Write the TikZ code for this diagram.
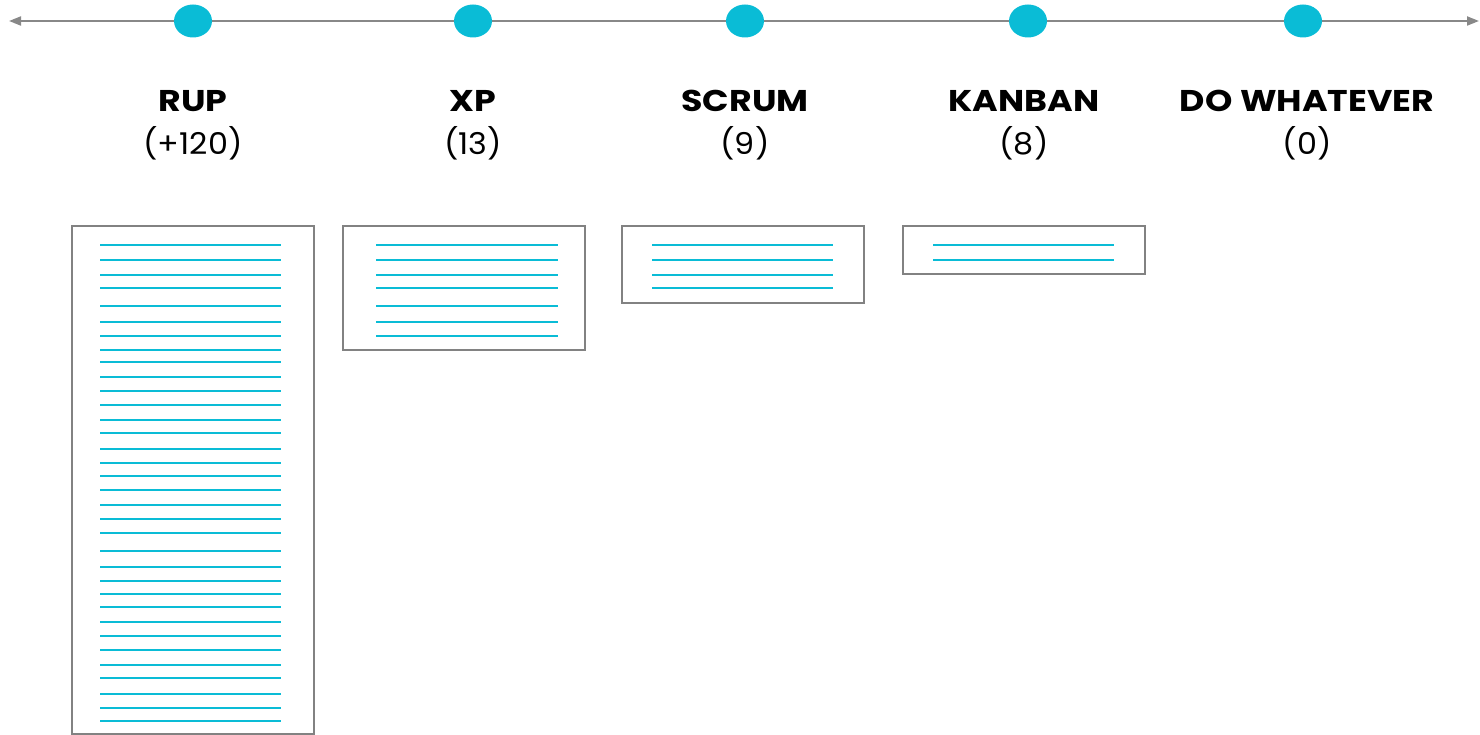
\documentclass[tikz,border=0pt]{standalone}
\usepackage{graphicx}
\usepackage{fontspec}
\setmainfont{Poppins}
\usetikzlibrary{arrows.meta,shapes.geometric}
\definecolor{dotcyan}{HTML}{0ABCD6}
\definecolor{axisgray}{HTML}{888888}
\definecolor{boxgray}{HTML}{828282}
\newcommand\widetitle[1]{\scalebox{1.16}[1]{#1}}
\newcommand\widecount[1]{\scalebox{1.06}[1]{#1}}
\tikzset{
  dot/.style={ellipse, fill=dotcyan, minimum width=38pt, minimum height=33pt, inner sep=0pt},
  title/.style={font=\fontsize{30}{30}\selectfont\bfseries, anchor=base, text=black},
  count/.style={font=\fontsize{30}{30}\selectfont, anchor=base, text=black},
  docbox/.style={draw=boxgray, line width=2pt},
  docline/.style={draw=dotcyan, line width=2pt},
  axis/.style={draw=axisgray, line width=2pt, {Triangle[length=12pt,width=9pt]}-{Triangle[length=12pt,width=9pt]}}
}
\begin{document}
\begin{tikzpicture}[x=1pt,y=1pt]
\useasboundingbox (0,0) rectangle (1480,-735);
\coordinate (axL) at (9,-21);
\coordinate (axR) at (1479,-21);
\draw[axis] (axL) -- (axR);
\node[dot] (d1) at (193,-21) {};
\node[dot] (d2) at (473,-21) {};
\node[dot] (d3) at (745,-21) {};
\node[dot] (d4) at (1028,-21) {};
\node[dot] (d5) at (1303,-21) {};
\node[title] (t1) at (193,-112) {\widetitle{RUP}};
\node[title] (t2) at (473,-112) {\widetitle{XP}};
\node[title] (t3) at (745,-112) {\widetitle{SCRUM}};
\node[title] (t4) at (1024,-112) {\widetitle{KANBAN}};
\node[title] (t5) at (1307,-112) {\widetitle{DO WHATEVER}};
\node[count] (c1) at (193,-155) {\widecount{(+120)}};
\node[count] (c2) at (473,-155) {\widecount{(13)}};
\node[count] (c3) at (745,-155) {\widecount{(9)}};
\node[count] (c4) at (1024,-155) {\widecount{(8)}};
\node[count] (c5) at (1307,-155) {\widecount{(0)}};
% RUP box
\draw[docbox] (72,-226) rectangle (314,-734);
\foreach \y in {244.7,260,274.7,287.7,306.3,322,336.3,349.7,361.7,377,391.3,404.7,420,433.3,448.7,463,476,489.7,504.7,519.3,532.7,551.3,567,581,594.3,606.7,622,636.3,649.7,665,678.3,693.7,708,721.3}
  \draw[docline] (100,-\y) -- (281,-\y);
% XP box
\draw[docbox] (343,-226) rectangle (585,-349.7);
\foreach \y in {244.7,260,274.7,287.7,306.3,322,336.3}
  \draw[docline] (376,-\y) -- (557.7,-\y);
% SCRUM box
\draw[docbox] (621.5,-226) rectangle (864,-303);
\foreach \y in {244.7,260,274.7,287.7}
  \draw[docline] (652,-\y) -- (833,-\y);
% KANBAN box
\draw[docbox] (903,-226) rectangle (1145,-274);
\foreach \y in {244.7,260}
  \draw[docline] (933,-\y) -- (1114,-\y);
\end{tikzpicture}
\end{document}
